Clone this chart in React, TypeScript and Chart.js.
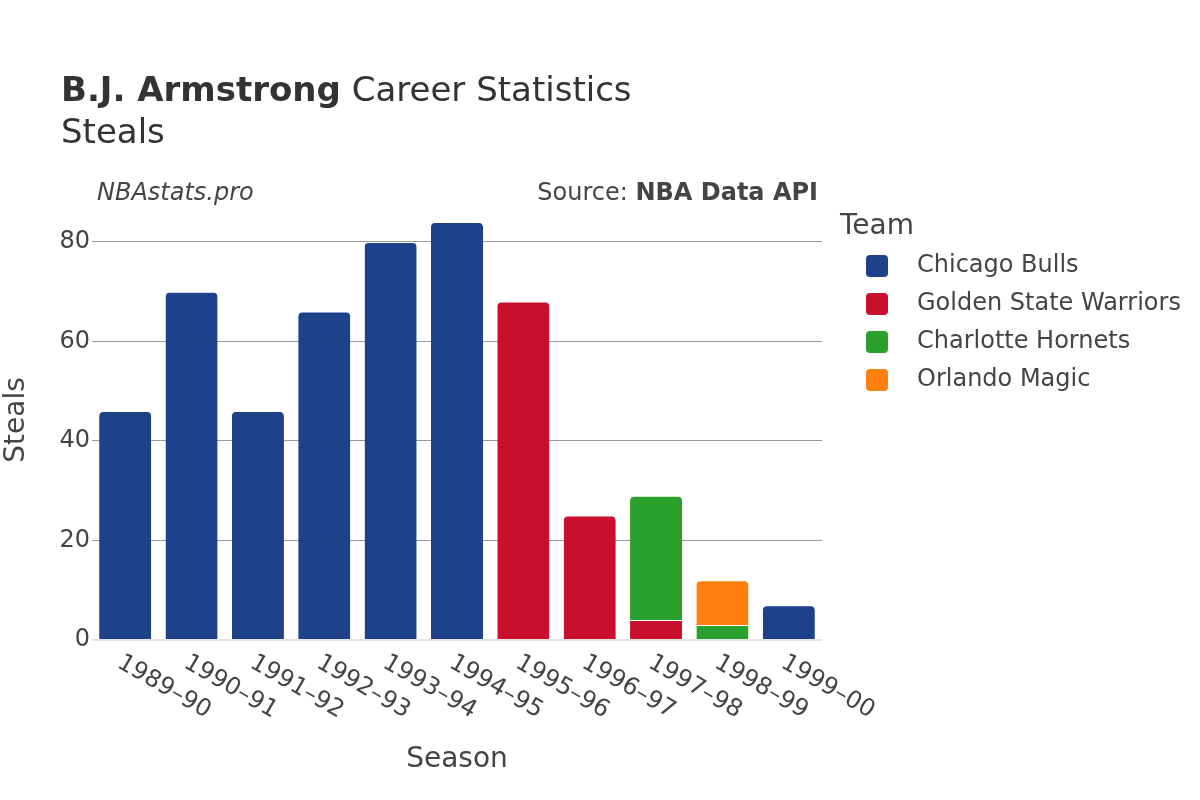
import React, { useEffect, useRef } from "react";
import { Chart, registerables } from "chart.js";

Chart.register(...registerables);

const seasons = ["1989–90", "1990–91", "1991–92", "1992–93", "1993–94", "1994–95", "1995–96", "1996–97", "1997–98", "1998–99", "1999–00"];
const teams = ["Chicago Bulls", "Golden State Warriors", "Charlotte Hornets", "Orlando Magic"];
const teamColors = ["#1d428a", "#c8102e", "#2ca02c", "#ff7f0e"];
const bullsSteals = [46, 70, 46, 66, 80, 84, null, null, null, null, 7];
const warriorsSteals = [null, null, null, null, null, null, 68, 25, 4, null, null];
const hornetsSteals = [null, null, null, null, null, null, null, null, 25, 3, null];
const magicSteals = [null, null, null, null, null, null, null, null, null, 9, null];
const yTicks = [0, 20, 40, 60, 80];
const yMax = 88.42;

const FONT = "'DejaVu Sans', sans-serif";
const TEXT = "#444";

export default function App() {
  const ref = useRef<HTMLCanvasElement | null>(null);
  useEffect(() => {
    document.body.style.margin = "0";
    const series = [bullsSteals, warriorsSteals, hornetsSteals, magicSteals];
    const isTop = (di: number, idx: number) => {
      for (let k = di + 1; k < series.length; k++) {
        const v = series[k][idx];
        if (v != null && v !== 0) return false;
      }
      return true;
    };
    const overlay = {
      id: "overlay",
      afterDraw(chart: any) {
        const c = chart.ctx;
        const area = chart.chartArea;
        c.save();
        // Title
        c.fillStyle = "#333";
        c.textBaseline = "alphabetic";
        c.textAlign = "left";
        c.font = `bold 34px ${FONT}`;
        const t1 = "B.J. Armstrong";
        c.fillText(t1, 61, 101);
        const w1 = c.measureText(t1).width;
        c.font = `34px ${FONT}`;
        c.fillText(" Career Statistics", 61 + w1, 101);
        c.fillText("Steals", 61, 143);
        // watermark & source
        c.fillStyle = TEXT;
        c.font = `italic 24px ${FONT}`;
        c.fillText("NBAstats.pro", 97, 200);
        c.textAlign = "right";
        c.font = `bold 24px ${FONT}`;
        const sb = "NBA Data API";
        const sbw = c.measureText(sb).width;
        c.fillText(sb, 818, 200);
        c.font = `24px ${FONT}`;
        c.fillText("Source: ", 818 - sbw, 200);
        // x tick labels
        const xs = chart.scales.x;
        c.font = `24px ${FONT}`;
        c.fillStyle = TEXT;
        c.textAlign = "left";
        c.textBaseline = "middle";
        seasons.forEach((s, i) => {
          const x = xs.getPixelForValue(i);
          c.save();
          c.translate(x - 6, 661);
          c.rotate(Math.PI / 6);
          c.fillText(s, 0, 0);
          c.restore();
        });
        // axis titles
        c.font = `28px ${FONT}`;
        c.textAlign = "center";
        c.textBaseline = "middle";
        c.fillText("Season", (area.left + area.right) / 2, 760);
        c.save();
        c.translate(17, (area.top + area.bottom) / 2);
        c.rotate(-Math.PI / 2);
        c.fillText("Steals", 0, 0);
        c.restore();
        // legend
        c.textAlign = "left";
        c.font = `28px ${FONT}`;
        c.fillStyle = "#444";
        c.fillText("Team", 840, 227);
        c.font = `24px ${FONT}`;
        teams.forEach((t, i) => {
          const cy = 266 + i * 38;
          c.fillStyle = teamColors[i];
          c.beginPath();
          (c as any).roundRect(866, cy - 11, 22, 22, 4);
          c.fill();
          c.fillStyle = TEXT;
          c.fillText(t, 917, cy);
        });
        c.restore();
      },
    };
    const chart = new Chart(ref.current as HTMLCanvasElement, {
      type: "bar",
      data: {
        labels: seasons,
        datasets: series.map((d, di) => ({
          label: teams[di],
          data: d,
          backgroundColor: teamColors[di],
          borderColor: "#ffffff",
          borderWidth: { top: 1, left: 0, right: 0, bottom: 0 },
          borderSkipped: "start",
          borderRadius: (ctx: any) =>
            isTop(di, ctx.dataIndex)
              ? { topLeft: 5, topRight: 5, bottomLeft: 0, bottomRight: 0 }
              : 0,
          barPercentage: 0.785,
          categoryPercentage: 1,
        })),
      },
      options: {
        responsive: false,
        animation: false,
        layout: { padding: { top: 200, right: 378, bottom: 160, left: 0 } },
        plugins: { legend: { display: false }, tooltip: { enabled: false }, title: { display: false } },
        scales: {
          x: { stacked: true, display: false },
          y: {
            stacked: true,
            min: 0,
            max: yMax,
            afterFit: (s: any) => {
              s.width = 92;
            },
            afterBuildTicks: (s: any) => {
              s.ticks = yTicks.map((v) => ({ value: v }));
            },
            ticks: { font: { family: FONT, size: 24 }, color: TEXT, padding: 2 },
            border: { display: false },
            grid: {
              drawTicks: false,
              color: (ctx: any) => (ctx.tick && ctx.tick.value === 0 ? "#e5e5e5" : "#999"),
              lineWidth: (ctx: any) => (ctx.tick && ctx.tick.value === 0 ? 2 : 1),
            },
          },
        },
      },
      plugins: [overlay],
    });
    return () => chart.destroy();
  }, []);
  return <canvas ref={ref} width={1200} height={800} style={{ display: "block" }} />;
}
